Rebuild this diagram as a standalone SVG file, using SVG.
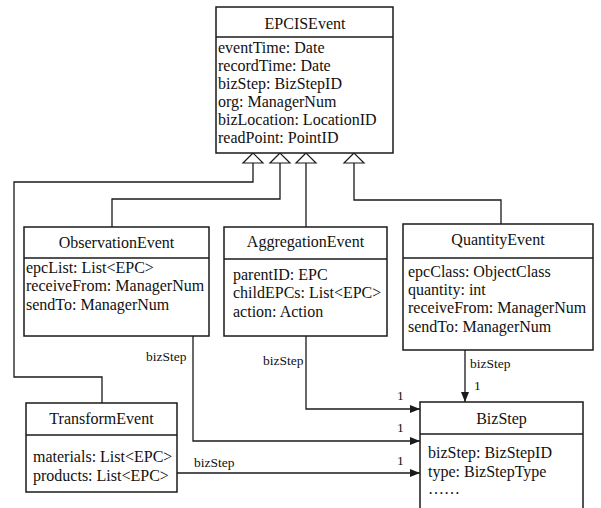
<svg xmlns="http://www.w3.org/2000/svg" width="601" height="508" viewBox="0 0 601 508">
<defs>
<style>
.box{fill:#fff;stroke:#1a1a1a;stroke-width:1.5}
.div{stroke:#1a1a1a;stroke-width:1.5}
.t{font-family:"Liberation Serif","Times New Roman",serif;font-size:16px;fill:#111}
.c{text-anchor:middle}
.lbl{font-family:"Liberation Serif","Times New Roman",serif;font-size:13.5px;fill:#111}
.ln{fill:none;stroke:#1a1a1a;stroke-width:1.3}
.gen{fill:#fff;stroke:#1a1a1a;stroke-width:1.2}
</style>
<marker id="arr" viewBox="0 0 10 8" refX="10" refY="4" markerWidth="10" markerHeight="8" markerUnits="userSpaceOnUse" orient="auto">
<path d="M0,0 L10,4 L0,8 Z" fill="#1a1a1a"/>
</marker>
</defs>
<rect width="601" height="508" fill="#fff"/>

<g id="connectors">
<path class="ln" d="M253,163 V182 H14 V377 H102 V403"/>
<path class="ln" d="M280,163 V199 H112 V227"/>
<path class="ln" d="M306,163 V227"/>
<path class="ln" d="M354,163 V200 H501 V224"/>
<polygon class="gen" points="253,153 243,163 263,163"/>
<polygon class="gen" points="280,153 270,163 290,163"/>
<polygon class="gen" points="306,153 296,163 316,163"/>
<polygon class="gen" points="354,153 344,163 364,163"/>
<path class="ln" d="M465,350 V402" marker-end="url(#arr)"/>
<path class="ln" d="M306,336 V409 H420" marker-end="url(#arr)"/>
<path class="ln" d="M193,336 V441 H420" marker-end="url(#arr)"/>
<path class="ln" d="M177,473 H420" marker-end="url(#arr)"/>
<text class="lbl" x="470" y="368">bizStep</text>
<text class="lbl" x="474" y="390">1</text>
<text class="lbl" x="263" y="365">bizStep</text>
<text class="lbl" x="397" y="400">1</text>
<text class="lbl" x="146" y="361">bizStep</text>
<text class="lbl" x="397" y="432">1</text>
<text class="lbl" x="194" y="467">bizStep</text>
<text class="lbl" x="397" y="465">1</text>
</g>

<g id="EPCISEvent">
<rect class="box" x="216" y="7" width="177" height="146"/>
<line class="div" x1="216" y1="37" x2="393" y2="37"/>
<text class="t c" x="305" y="29">EPCISEvent</text>
<text class="t" x="218" y="53">eventTime: Date</text>
<text class="t" x="218" y="71">recordTime: Date</text>
<text class="t" x="218" y="89">bizStep: BizStepID</text>
<text class="t" x="218" y="107">org: ManagerNum</text>
<text class="t" x="218" y="125">bizLocation: LocationID</text>
<text class="t" x="218" y="143">readPoint: PointID</text>
</g>

<g id="ObservationEvent">
<rect class="box" x="24" y="227" width="185" height="109"/>
<line class="div" x1="24" y1="258" x2="209" y2="258"/>
<text class="t c" x="116.5" y="248">ObservationEvent</text>
<text class="t" x="26" y="273">epcList: List&lt;EPC&gt;</text>
<text class="t" x="26" y="291">receiveFrom: ManagerNum</text>
<text class="t" x="26" y="310">sendTo: ManagerNum</text>
</g>

<g id="AggregationEvent">
<rect class="box" x="224" y="227" width="163" height="109"/>
<line class="div" x1="224" y1="259" x2="387" y2="259"/>
<text class="t c" x="305.5" y="247">AggregationEvent</text>
<text class="t" x="233" y="280">parentID: EPC</text>
<text class="t" x="233" y="298">childEPCs: List&lt;EPC&gt;</text>
<text class="t" x="233" y="317">action: Action</text>
</g>

<g id="QuantityEvent">
<rect class="box" x="403" y="224" width="190" height="126"/>
<line class="div" x1="403" y1="258" x2="593" y2="258"/>
<text class="t c" x="498" y="245">QuantityEvent</text>
<text class="t" x="408" y="277">epcClass: ObjectClass</text>
<text class="t" x="408" y="295">quantity: int</text>
<text class="t" x="408" y="313">receiveFrom: ManagerNum</text>
<text class="t" x="408" y="332">sendTo: ManagerNum</text>
</g>

<g id="TransformEvent">
<rect class="box" x="26" y="403" width="151" height="89"/>
<line class="div" x1="26" y1="435" x2="177" y2="435"/>
<text class="t c" x="101.5" y="424">TransformEvent</text>
<text class="t" x="33" y="462">materials: List&lt;EPC&gt;</text>
<text class="t" x="33" y="481">products: List&lt;EPC&gt;</text>
</g>

<g id="BizStep">
<rect class="box" x="420" y="402" width="163" height="120"/>
<line class="div" x1="420" y1="434" x2="583" y2="434"/>
<text class="t c" x="501.5" y="424">BizStep</text>
<text class="t" x="428" y="458">bizStep: BizStepID</text>
<text class="t" x="428" y="477">type: BizStepType</text>
<text class="t" x="428" y="494">……</text>
</g>
</svg>
